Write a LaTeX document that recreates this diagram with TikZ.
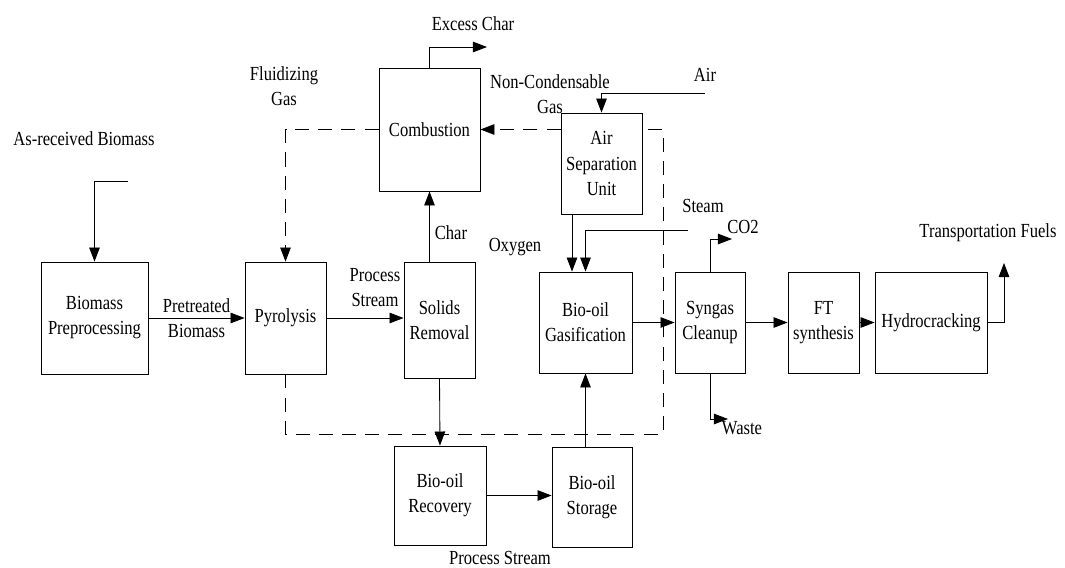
\documentclass[tikz,border=0pt]{standalone}
\usepackage{fontspec}
\setmainfont{Liberation Serif}[FakeStretch=0.83]
\usepackage{tikz}
\usetikzlibrary{positioning, arrows.meta, calc}

\begin{document}
\begin{tikzpicture}[x=0.025cm, y=-0.025cm,
    font=\fontsize{14.2}{17.8}\selectfont,
    unit/.style 2 args={draw, fill=white, line width=0.6pt, align=center, inner sep=1pt,
      minimum width=#1*0.025cm, minimum height=#2*0.025cm},
    lbl/.style={align=center, inner sep=1pt},
    flow/.style={line width=0.6pt, -{Triangle[length=10pt, width=7.5pt]}},
    recycle/.style={flow, dash pattern=on 10pt off 6.5pt}]
    \useasboundingbox (0,0) rectangle (1065,567);

    % Process units
    \node[unit={107}{112}] (prep) at (94.5,318) {Biomass\\Preprocessing};
    \node[unit={81}{112}] (pyro) at (285.5,318) {Pyrolysis};
    \node[unit={71}{116}] (solids) at (439.5,320) {Solids\\Removal};
    \node[unit={101}{123}] (comb) at (429.5,129.5) {Combustion};
    \node[unit={81}{101}] (asu) at (601.5,163.5) {Air\\Separation\\Unit};
    \node[unit={93}{101}] (gasif) at (585.5,322.5) {Bio-oil\\Gasification};
    \node[unit={70}{101}] (syngas) at (710,322.5) {Syngas\\Cleanup};
    \node[unit={71}{101}] (ft) at (823.5,322.5) {FT\\synthesis};
    \node[unit={112}{101}] (hydro) at (931,322.5) {Hydrocracking};
    \node[unit={92}{99}] (recov) at (440,495.5) {Bio-oil\\Recovery};
    \node[unit={80}{100}] (store) at (592,497) {Bio-oil\\Storage};

    % Stream labels
    \node[lbl] (feedlbl) at (84,139) {As-received Biomass};
    \node[lbl] (fluidlbl) at (284,86) {Fluidizing\\Gas};
    \node[lbl] (excesslbl) at (473,24) {Excess Char};
    \node[lbl] (ncglbl) at (550,94) {Non-Condensable\\Gas};
    \node[lbl] (airlbl) at (705,75) {Air};
    \node[lbl] (charlbl) at (451,233) {Char};
    \node[lbl] (oxylbl) at (515,247) {Oxygen};
    \node[lbl] (steamlbl) at (703,206) {Steam};
    \node[lbl] (co2lbl) at (743,227) {CO2};
    \node[lbl] (wastelbl) at (742,428) {Waste};
    \node[lbl] (fuelslbl) at (988,233) {Transportation Fuels};
    \node[lbl] (pslbl) at (375,288) {Process\\Stream};
    \node[lbl] (ps2lbl) at (500,558) {Process Stream};

    % Free ends
    \coordinate (feed) at (128,181);
    \coordinate (excess) at (487,47);
    \coordinate (air) at (705,93);
    \coordinate (steam) at (688,230);
    \coordinate (co2) at (732,239);
    \coordinate (waste) at (728,419);
    \coordinate (fuels) at (1004,263);
    \coordinate (ncgSE) at (663,434);

    % Main line
    \draw[flow] (feed) -| (prep.north);
    \draw[flow] (prep) -- node[lbl] (ptlbl) {Pretreated\\Biomass} (pyro);
    \draw[flow] (pyro.east) -- (pyro.east -| solids.west);
    \draw[flow] (comb |- solids.north) -- (comb.south);
    \draw[flow] (comb.north) |- (excess);
    \draw[flow] (solids.south) -- (recov.north);
    \draw[flow] (recov.east) -- (recov.east -| store.west);
    \draw[flow] (gasif.south |- store.north) -- (gasif.south);
    \draw[flow] (air) -| (asu.north);
    \draw[flow] ($(asu.south)+(-29.5,0)$) -- ($(gasif.north)+(-13.5,0)$);
    \draw[flow] (steam) -| (gasif.north);
    \draw[flow] (gasif) -- (syngas);
    \draw[flow] (syngas) -- (ft);
    \draw[flow] (ft) -- (hydro);
    \draw[flow] (hydro.east) -| (fuels);
    \draw[flow] (syngas.north) |- (co2);
    \draw[flow] (syngas.south) |- (waste);

    % Gas recycle loops
    \draw[recycle] (comb.west) -| (pyro.north);
    \draw[recycle, -] (pyro.south) |- (ncgSE) |- (asu.east |- comb.east);
    \draw[recycle] (asu.west |- comb.east) -- (comb.east);
\end{tikzpicture}
\end{document}
